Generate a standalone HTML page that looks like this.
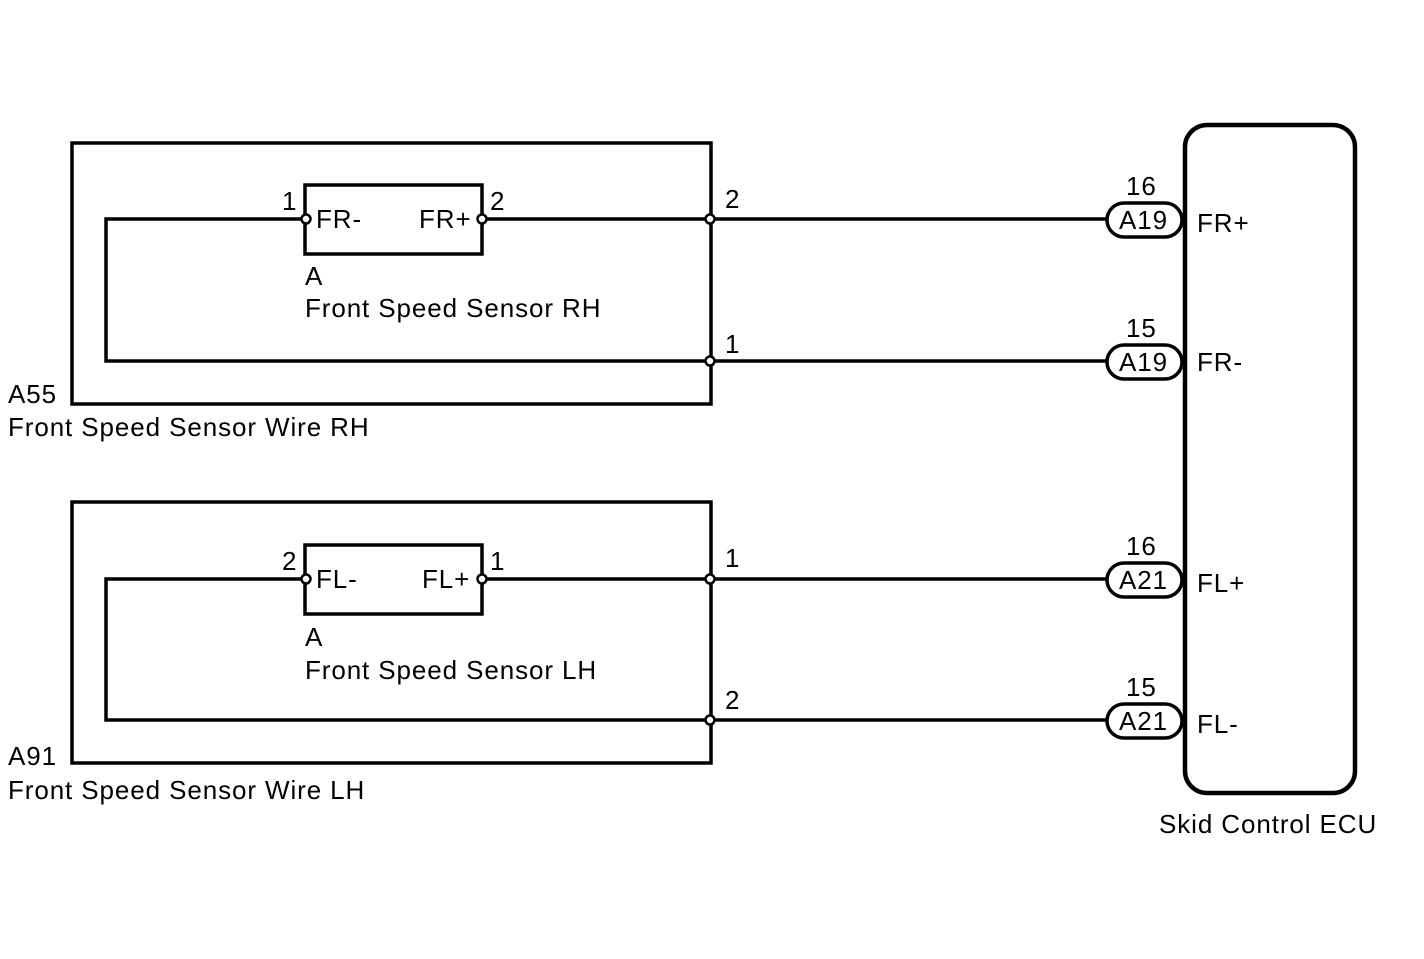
<!DOCTYPE html>
<html><head><style>body{margin:0;background:#fff}svg{display:block}text{font-family:"Liberation Sans",Arial,sans-serif;font-size:26px;letter-spacing:0.9px;fill:#000}</style></head>
<body>
<svg width="1424" height="959" viewBox="0 0 1424 959">
<g fill="none" stroke="#000" stroke-width="3.5">
<rect x="72" y="143" width="639" height="261"/>
<rect x="305" y="185" width="177" height="69"/>
<polyline points="305,219 106,219 106,361 1107,361"/>
<line x1="482" y1="219" x2="1107" y2="219"/>
<rect x="72" y="502" width="639" height="261"/>
<rect x="305" y="545" width="177" height="69"/>
<polyline points="305,579 106,579 106,720 1107,720"/>
<line x1="482" y1="579" x2="1107" y2="579"/>
<rect x="1185" y="125" width="170" height="668" rx="22" stroke-width="4.5"/>
<rect x="1107" y="203" width="75" height="34" rx="17"/>
<rect x="1107" y="345" width="75" height="34" rx="17"/>
<rect x="1107" y="563" width="75" height="34" rx="17"/>
<rect x="1107" y="704" width="75" height="34" rx="17"/>
</g>
<g fill="#fff" stroke="#000" stroke-width="2.5">
<circle cx="306" cy="219" r="4.5"/><circle cx="482" cy="219" r="4.5"/>
<circle cx="710" cy="219" r="4.5"/><circle cx="710" cy="361" r="4.5"/>
<circle cx="306" cy="579" r="4.5"/><circle cx="482" cy="579" r="4.5"/>
<circle cx="710" cy="579" r="4.5"/><circle cx="710" cy="720" r="4.5"/>
</g>
<text x="282" y="210">1</text><text x="316" y="228">FR-</text><text x="419" y="228">FR+</text><text x="490" y="210">2</text>
<text x="305" y="285">A</text><text x="305" y="317">Front Speed Sensor RH</text>
<text x="725" y="208">2</text><text x="725" y="353">1</text>
<text x="8" y="403">A55</text><text x="8" y="436">Front Speed Sensor Wire RH</text>
<text x="282" y="570">2</text><text x="316" y="588">FL-</text><text x="422" y="588">FL+</text><text x="490" y="570">1</text>
<text x="305" y="646">A</text><text x="305" y="679">Front Speed Sensor LH</text>
<text x="725" y="567">1</text><text x="725" y="709">2</text>
<text x="8" y="765">A91</text><text x="8" y="799">Front Speed Sensor Wire LH</text>
<text x="1126" y="195">16</text><text x="1119" y="229">A19</text><text x="1197" y="232">FR+</text>
<text x="1126" y="337">15</text><text x="1119" y="371">A19</text><text x="1197" y="371">FR-</text>
<text x="1126" y="555">16</text><text x="1119" y="589">A21</text><text x="1197" y="592">FL+</text>
<text x="1126" y="696">15</text><text x="1119" y="730">A21</text><text x="1197" y="733">FL-</text>
<text x="1159" y="833">Skid Control ECU</text>
</svg>
</body></html>
